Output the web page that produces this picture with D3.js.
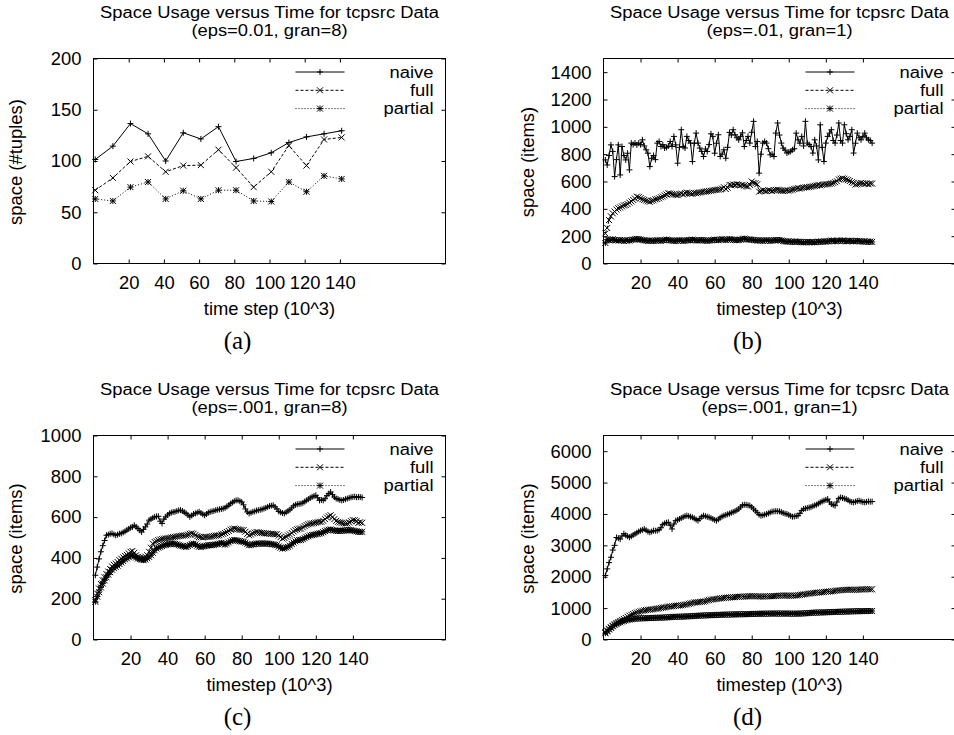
<!DOCTYPE html>
<html>
<head>
<meta charset="utf-8">
<script src="https://cdn.jsdelivr.net/npm/d3@7"></script>
<style>
  html, body { margin: 0; padding: 0; background: #fff; }
  svg { display: block; }
  text { font-family: "Liberation Sans", Arial, Helvetica, sans-serif; fill: #000; }
  text.caption { font-family: "Liberation Serif", "Times New Roman", serif; }
</style>
</head>
<body>
<svg id="fig" width="954" height="735"></svg>
<script>
// ---- shared labels and ticks ----
const SERIES = ["naive", "full", "partial"];
const X_TICKS = [20, 40, 60, 80, 100, 120, 140];
const Y_TICKS_A = [0, 50, 100, 150, 200];
const Y_TICKS_B = [0, 200, 400, 600, 800, 1000, 1200, 1400];
const Y_TICKS_C = [0, 200, 400, 600, 800, 1000];
const Y_TICKS_D = [0, 1000, 2000, 3000, 4000, 5000, 6000];
const TITLE = "Space Usage versus Time for tcpsrc Data";

// ---- (a) eps=0.01, gran=8 : one sample every 10 time steps ----
const stepsA = [1, 11, 21, 31, 41, 51, 61, 71, 81, 91, 101, 111, 121, 131, 141];
const naiveA   = [101.5, 114.5, 136.5, 126.5, 100, 127.5, 121.5, 133.5, 99.5, 102.5, 108, 118, 123.5, 126.5, 129.5];
const fullA    = [71.5, 83.5, 99.5, 104.5, 89.5, 95.5, 96, 111, 93.5, 74.5, 89.5, 115, 95.5, 121, 123];
const partialA = [63, 61, 74.5, 79.5, 63, 71, 63, 71.5, 71.5, 61, 60.5, 79.5, 70, 85.5, 82.5];

// ---- time steps 1..145 (x 10^3) for panels (b)-(d) ----
const steps = d3.range(1, 146);

// ---- (b) eps=.01, gran=1 ----
const naiveB = [
  758, 721, 790, 868, 820, 636, 760, 868, 648, 856,
  790, 758, 807, 685, 881, 870, 881, 868, 881, 870,
  905, 860, 832, 807, 709, 770, 790, 760, 881, 893,
  856, 870, 845, 850, 860, 893, 856, 930, 868, 734,
  850, 979, 856, 845, 930, 900, 881, 746, 880, 954,
  881, 845, 820, 783, 838, 820, 870, 949, 930, 807,
  880, 942, 783, 800, 832, 770, 850, 959, 940, 979,
  942, 920, 905, 930, 956, 856, 900, 930, 881, 960,
  1040, 856, 893, 661, 800, 881, 893, 881, 840, 795,
  800, 783, 954, 1028, 940, 881, 844, 830, 808, 815,
  820, 832, 840, 954, 905, 880, 930, 860, 1040, 881,
  870, 856, 808, 905, 860, 758, 1015, 850, 746, 881,
  930, 954, 979, 900, 881, 940, 1028, 900, 881, 1015,
  950, 905, 930, 979, 808, 880, 954, 920, 905, 930,
  954, 920, 905, 900, 881
];
const fullB = [
  220, 260, 318, 345, 367, 380, 395, 404, 410, 418,
  425, 428, 435, 445, 455, 465, 475, 489, 485, 478,
  470, 465, 460, 455, 452, 458, 462, 470, 472, 477,
  485, 490, 498, 505, 514, 512, 508, 505, 502, 500,
  508, 512, 505, 515, 519, 515, 512, 510, 516, 514,
  518, 520, 522, 525, 526, 528, 530, 532, 535, 538,
  538, 540, 542, 548, 558, 545, 555, 575, 572, 578,
  575, 580, 576, 572, 575, 570, 565, 563, 575, 600,
  590, 587, 580, 526, 530, 535, 532, 530, 536, 534,
  530, 535, 538, 540, 538, 532, 530, 532, 535, 534,
  536, 540, 545, 548, 551, 548, 552, 555, 558, 558,
  560, 562, 565, 568, 570, 575, 572, 575, 578, 580,
  580, 582, 585, 590, 595, 602, 615, 620, 622, 620,
  615, 610, 604, 595, 590, 578, 580, 585, 590, 587,
  582, 585, 580, 586, 585
];
const partialB = [
  150, 175, 170, 172, 178, 172, 170, 168, 172, 170,
  165, 168, 170, 168, 172, 175, 178, 180, 178, 175,
  172, 170, 168, 165, 168, 166, 165, 168, 170, 168,
  166, 170, 172, 175, 172, 170, 168, 166, 165, 168,
  170, 168, 165, 168, 170, 172, 170, 175, 172, 170,
  168, 170, 172, 170, 168, 166, 168, 170, 172, 175,
  172, 170, 175, 178, 175, 172, 175, 178, 176, 174,
  172, 170, 172, 175, 180, 182, 178, 175, 176, 174,
  172, 170, 168, 170, 168, 166, 168, 170, 168, 166,
  168, 170, 172, 170, 172, 168, 165, 162, 160, 162,
  160, 158, 160, 158, 160, 158, 156, 155, 156, 158,
  155, 156, 158, 155, 157, 160, 158, 160, 162, 160,
  162, 165, 168, 165, 162, 165, 168, 166, 168, 165,
  162, 165, 167, 165, 162, 164, 166, 164, 162, 160,
  162, 160, 158, 160, 158
];

// ---- (c) eps=.001, gran=8 ----
const naiveC = [
  315, 355, 395, 430, 460, 485, 511, 514, 518, 520,
  515, 511, 514, 518, 520, 525, 530, 536, 542, 548,
  552, 560, 552, 544, 535, 527, 540, 552, 566, 585,
  590, 596, 601, 603, 604, 580, 569, 590, 601, 610,
  618, 622, 625, 626, 630, 633, 634, 630, 624, 618,
  610, 601, 608, 615, 618, 622, 626, 620, 614, 609,
  615, 622, 626, 628, 630, 634, 636, 638, 640, 642,
  645, 652, 658, 666, 672, 678, 682, 682, 678, 674,
  660, 640, 625, 618, 622, 626, 628, 632, 634, 636,
  638, 642, 645, 650, 654, 656, 658, 650, 640, 628,
  624, 620, 618, 624, 630, 636, 645, 655, 660, 663,
  665, 666, 670, 676, 682, 688, 694, 699, 703, 707,
  695, 682, 684, 682, 690, 705, 715, 723, 710, 698,
  691, 688, 684, 682, 684, 688, 691, 694, 697, 699,
  700, 697, 699, 698, 696
];
const fullC = [
  193, 225, 250, 272, 290, 305, 320, 333, 345, 358,
  366, 372, 380, 389, 396, 403, 410, 415, 422, 430,
  434, 425, 413, 405, 400, 397, 400, 406, 413, 430,
  450, 470, 478, 482, 487, 490, 492, 494, 495, 497,
  498, 500, 502, 503, 505, 507, 508, 509, 510, 511,
  514, 518, 520, 518, 512, 506, 503, 502, 500, 502,
  503, 503, 504, 506, 508, 509, 510, 511, 515, 518,
  522, 527, 532, 538, 542, 544, 542, 540, 538, 537,
  536, 528, 518, 511, 515, 520, 524, 527, 525, 523,
  522, 521, 520, 520, 518, 518, 517, 516, 516, 510,
  502, 495, 498, 504, 510, 515, 522, 530, 536, 540,
  543, 544, 550, 556, 561, 565, 568, 569, 571, 573,
  575, 577, 577, 582, 590, 598, 604, 609, 600, 590,
  582, 577, 574, 572, 570, 569, 569, 574, 580, 585,
  585, 580, 572, 575, 572
];
const partialC = [
  185, 210, 232, 255, 274, 290, 305, 318, 330, 342,
  350, 356, 362, 370, 378, 385, 393, 398, 404, 410,
  413, 408, 402, 397, 394, 391, 389, 392, 398, 405,
  413, 425, 437, 446, 450, 454, 458, 462, 464, 466,
  468, 469, 470, 468, 466, 463, 460, 458, 456, 454,
  458, 463, 468, 470, 466, 460, 455, 454, 456, 458,
  460, 462, 462, 463, 464, 466, 468, 470, 474, 470,
  465, 470, 476, 482, 486, 487, 486, 484, 482, 480,
  479, 474, 468, 462, 464, 466, 468, 470, 470, 470,
  471, 470, 470, 470, 469, 468, 466, 464, 462, 456,
  450, 446, 448, 451, 454, 460, 468, 475, 481, 486,
  487, 488, 492, 497, 502, 506, 510, 512, 514, 516,
  518, 520, 521, 526, 531, 535, 538, 539, 537, 535,
  533, 532, 532, 533, 534, 535, 536, 536, 536, 534,
  532, 530, 528, 527, 528
];

// ---- (d) eps=.001, gran=1 ----
const naiveD = [
  2040, 2250, 2450, 2620, 2850, 3000, 3250, 3230, 3200, 3300,
  3370, 3320, 3290, 3257, 3290, 3330, 3365, 3400, 3440, 3470,
  3490, 3520, 3480, 3440, 3416, 3440, 3470, 3465, 3470, 3500,
  3560, 3660, 3700, 3720, 3735, 3640, 3522, 3680, 3787, 3810,
  3840, 3870, 3900, 3930, 3946, 3930, 3910, 3893, 3860, 3820,
  3787, 3850, 3910, 3946, 3930, 3910, 3893, 3870, 3840, 3810,
  3787, 3830, 3880, 3920, 3946, 3970, 3990, 4010, 4040, 4060,
  4090, 4120, 4159, 4220, 4280, 4295, 4290, 4275, 4264, 4220,
  4160, 4103, 4040, 3980, 3946, 3960, 3980, 3998, 4020, 4050,
  4075, 4083, 4090, 4085, 4083, 4060, 4030, 4010, 3998, 3970,
  3940, 3913, 3920, 3935, 3946, 4020, 4110, 4159, 4175, 4190,
  4205, 4220, 4250, 4275, 4295, 4330, 4370, 4400, 4425, 4450,
  4476, 4380, 4316, 4290, 4264, 4380, 4490, 4527, 4510, 4490,
  4476, 4440, 4400, 4380, 4370, 4390, 4410, 4422, 4400, 4380,
  4370, 4385, 4400, 4390, 4395
];
const fullD = [
  230, 285, 340, 390, 440, 485, 525, 560, 595, 625,
  655, 690, 725, 760, 790, 815, 840, 862, 880, 900,
  915, 928, 938, 945, 952, 960, 966, 975, 985, 995,
  1005, 1015, 1025, 1035, 1045, 1052, 1060, 1068, 1075, 1079,
  1085, 1092, 1100, 1110, 1120, 1135, 1150, 1165, 1180, 1185,
  1190, 1194, 1200, 1210, 1220, 1240, 1255, 1270, 1278, 1285,
  1292, 1300, 1310, 1318, 1325, 1330, 1335, 1340, 1345, 1348,
  1352, 1356, 1360, 1364, 1366, 1368, 1372, 1376, 1380, 1384,
  1382, 1378, 1375, 1372, 1370, 1368, 1372, 1375, 1378, 1380,
  1382, 1384, 1386, 1390, 1395, 1400, 1404, 1402, 1398, 1395,
  1393, 1397, 1400, 1405, 1410, 1418, 1428, 1438, 1446, 1455,
  1462, 1471, 1478, 1484, 1490, 1496, 1502, 1508, 1514, 1520,
  1524, 1530, 1536, 1542, 1550, 1558, 1566, 1572, 1576, 1580,
  1584, 1586, 1588, 1585, 1582, 1584, 1587, 1590, 1592, 1595,
  1600, 1605, 1602, 1598, 1600
];
const partialD = [
  200, 260, 320, 370, 420, 460, 495, 525, 550, 572,
  592, 610, 625, 638, 648, 656, 662, 667, 671, 674,
  676, 678, 680, 682, 684, 686, 688, 690, 692, 694,
  696, 698, 700, 705, 710, 714, 718, 720, 722, 724,
  726, 728, 731, 734, 737, 740, 743, 746, 749, 752,
  755, 758, 762, 766, 770, 772, 774, 776, 778, 780,
  782, 784, 786, 788, 790, 792, 794, 796, 798, 800,
  802, 803, 804, 805, 806, 807, 808, 810, 812, 814,
  815, 816, 817, 818, 819, 820, 822, 824, 825, 825,
  825, 826, 826, 826, 826, 826, 826, 825, 825, 825,
  824, 823, 822, 822, 823, 825, 828, 832, 836, 840,
  844, 848, 852, 855, 858, 860, 862, 864, 866, 868,
  870, 872, 874, 876, 878, 880, 882, 884, 886, 888,
  890, 892, 894, 896, 898, 900, 902, 903, 904, 905,
  906, 907, 908, 908, 908
];

// ---- panel layout ----
const panels = [
  { box: [93.5, 445.5, 58.5, 263.5], xMax: 200, yMax: 200, yTicks: Y_TICKS_A,
    steps: stepsA, values: [naiveA, fullA, partialA],
    subtitle: "(eps=0.01, gran=8)", xLabel: "time step (10^3)", yLabel: "space (#tuples)",
    yLabelX: 21.5, caption: "(a)" },
  { box: [603.5, 955.5, 58.5, 263.5], xMax: 190, yMax: 1500, yTicks: Y_TICKS_B,
    steps: steps, values: [naiveB, fullB, partialB],
    subtitle: "(eps=.01, gran=1)", xLabel: "timestep (10^3)", yLabel: "space (items)",
    yLabelX: 533.5, caption: "(b)" },
  { box: [93.5, 445.5, 435.5, 639.5], xMax: 190, yMax: 1000, yTicks: Y_TICKS_C,
    steps: steps, values: [naiveC, fullC, partialC],
    subtitle: "(eps=.001, gran=8)", xLabel: "timestep (10^3)", yLabel: "space (items)",
    yLabelX: 21.5, caption: "(c)" },
  { box: [603.5, 955.5, 435.5, 639.5], xMax: 190, yMax: 6500, yTicks: Y_TICKS_D,
    steps: steps, values: [naiveD, fullD, partialD],
    subtitle: "(eps=.001, gran=1)", xLabel: "timestep (10^3)", yLabel: "space (items)",
    yLabelX: 533.5, caption: "(d)" }
];

// gnuplot-like line types: solid "+", dashed "x", dotted "*"
const STYLE = {
  naive:   { dash: null,  marker: "+" },
  full:    { dash: "3,2", marker: "x" },
  partial: { dash: "1,2", marker: "*" }
};
const FONT = 18.4;
const NARROW_FONT = 16.2;    // title and key glyphs are narrow-set and widened
const STRETCH = 1.135;
const MARK = 3;

function markerPath(kind, s) {
  let d = "";
  if (kind !== "x") d += `M${-s},0H${s}M0,${-s}V${s}`;
  if (kind !== "+") d += `M${-s},${-s}L${s},${s}M${-s},${s}L${s},${-s}`;
  return d;
}

const svg = d3.select("#fig");

function styleAxis(g) {
  g.attr("font-family", null).attr("font-size", null);
  g.select(".domain").remove();
  g.selectAll(".tick line").attr("stroke", "#000");
  g.selectAll(".tick text").attr("font-size", FONT).attr("fill", "#000");
}

// text set in the narrow size and widened horizontally
function wideText(g, txt, x, y, anchor, dy) {
  return g.append("text")
    .attr("transform", `translate(${x},${y}) scale(${STRETCH},1)`)
    .attr("dy", dy || null)
    .attr("text-anchor", anchor).attr("font-size", NARROW_FONT).text(txt);
}

function drawPanel(p) {
  const [L, R, T, B] = p.box;
  const x = d3.scaleLinear().domain([0, p.xMax]).range([L, R]);
  const y = d3.scaleLinear().domain([0, p.yMax]).range([B, T]);
  const g = svg.append("g");

  // ticks on all four sides, pointing inward
  g.append("g").attr("transform", `translate(${L},0)`)
    .call(d3.axisLeft(y).tickValues(p.yTicks).tickSize(-4).tickPadding(12).tickFormat(d3.format("d")))
    .call(styleAxis);
  g.append("g").attr("transform", `translate(${R},0)`)
    .call(d3.axisRight(y).tickValues(p.yTicks).tickSize(-4).tickFormat(""))
    .call(styleAxis);
  g.append("g").attr("transform", `translate(0,${B})`)
    .call(d3.axisBottom(x).tickValues(X_TICKS).tickSize(-4).tickPadding(12).tickFormat(d3.format("d")))
    .call(styleAxis);
  g.append("g").attr("transform", `translate(0,${T})`)
    .call(d3.axisTop(x).tickValues(X_TICKS).tickSize(-4).tickFormat(""))
    .call(styleAxis);

  g.append("rect")
    .attr("x", L).attr("y", T).attr("width", R - L).attr("height", B - T)
    .attr("fill", "none").attr("stroke", "#000").attr("stroke-width", 1);

  const line = d3.line().x(d => x(d[0])).y(d => y(d[1]));

  SERIES.forEach((name, i) => {
    const st = STYLE[name];
    const pts = p.steps.map((t, k) => [t, p.values[i][k]]);
    g.append("path").datum(pts)
      .attr("d", line)
      .attr("fill", "none").attr("stroke", "#000").attr("stroke-width", 1)
      .attr("stroke-dasharray", st.dash);
    g.append("g").selectAll("path").data(pts).join("path")
      .attr("transform", d => `translate(${x(d[0])},${y(d[1])})`)
      .attr("d", markerPath(st.marker, MARK))
      .attr("fill", "none").attr("stroke", "#000").attr("stroke-width", 1);

    // key entry
    const ly = T + 13.5 + i * 18.3;
    g.append("line")
      .attr("x1", L + 202).attr("x2", L + 251).attr("y1", ly).attr("y2", ly)
      .attr("stroke", "#000").attr("stroke-width", 1).attr("stroke-dasharray", st.dash);
    g.append("path")
      .attr("transform", `translate(${L + 226.5},${ly})`)
      .attr("d", markerPath(st.marker, MARK))
      .attr("fill", "none").attr("stroke", "#000");
    wideText(g, name, L + 340, ly, "end", "0.36em");
  });

  const cx = (L + R) / 2;
  wideText(g, TITLE, cx, T - 40.6, "middle");
  wideText(g, p.subtitle, cx, T - 22.2, "middle");

  g.append("text").attr("x", cx).attr("y", B + 51.5)
    .attr("text-anchor", "middle").attr("font-size", FONT).text(p.xLabel);

  g.append("text")
    .attr("transform", `translate(${p.yLabelX},${(T + B) / 2 + 1}) rotate(-90)`)
    .attr("text-anchor", "middle").attr("font-size", FONT).text(p.yLabel);

  g.append("text").attr("class", "caption")
    .attr("x", L + 144).attr("y", B + 85.5)
    .attr("text-anchor", "middle")
    .attr("font-size", 25).text(p.caption);
}

panels.forEach(drawPanel);
</script>
</body>
</html>
